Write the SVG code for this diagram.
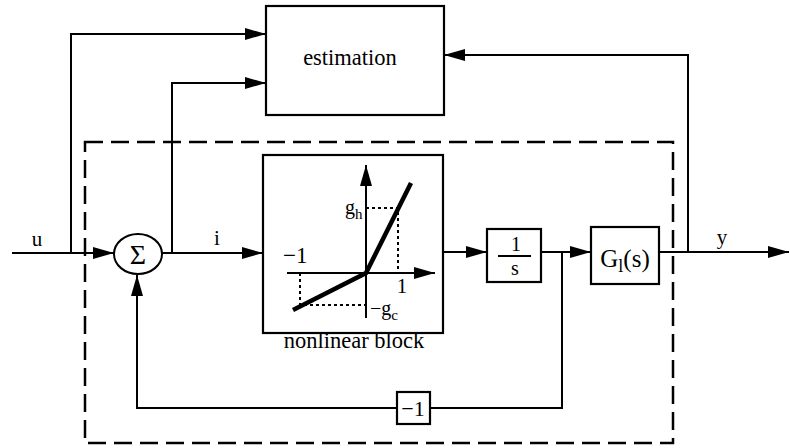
<svg xmlns="http://www.w3.org/2000/svg" width="790" height="448" viewBox="0 0 790 448">
<defs>
<marker id="ah" markerUnits="userSpaceOnUse" markerWidth="22" markerHeight="14" refX="21" refY="6" orient="auto">
<path d="M0,0 L21,6 L0,12 z" fill="#000"/>
</marker>
<style>
.box{fill:#fff;stroke:#000;stroke-width:2.2}
.ln{fill:none;stroke:#000;stroke-width:2}
.arr{fill:none;stroke:#000;stroke-width:2;marker-end:url(#ah)}
.dot{fill:none;stroke:#000;stroke-width:2;stroke-dasharray:3 3}
.t{font-family:"Liberation Serif","Times New Roman",serif;fill:#000}
</style>
</defs>
<rect x="0" y="0" width="790" height="448" fill="#fff"/>
<rect x="85" y="142" width="588" height="301" fill="none" stroke="#000" stroke-width="2.5" stroke-dasharray="18 8"/>
<g id="connectors">
<path class="arr" d="M12,253 H114"/>
<path class="arr" d="M71,253 V34 H266"/>
<path class="arr" d="M162,253 H263"/>
<path class="arr" d="M172,253 V83 H266"/>
<path class="arr" d="M443,252 H487"/>
<path class="arr" d="M541,252 H591"/>
<path class="ln" d="M562,252 V408 H430"/>
<path class="arr" d="M397,408 H137 V275"/>
<path class="arr" d="M659,252 H789"/>
<path class="arr" d="M688,252 V55 H444"/>
<text class="t" x="37" y="246" font-size="21" text-anchor="middle">u</text>
<text class="t" x="217" y="245" font-size="21" text-anchor="middle">i</text>
<text class="t" x="722" y="244" font-size="21" text-anchor="middle">y</text>
</g>
<g id="estimation">
<rect class="box" x="266" y="6" width="178" height="109"/>
<text class="t" x="350" y="65" font-size="22.5" text-anchor="middle">estimation</text>
</g>
<g id="sum">
<ellipse cx="138" cy="254" rx="24" ry="20" fill="#fff" stroke="#000" stroke-width="2"/>
<text class="t" x="138" y="264" font-size="28" text-anchor="middle">Σ</text>
</g>
<g id="nonlinear">
<rect class="box" x="263" y="155" width="180" height="178"/>
<path class="dot" d="M366,208 H398 V273"/>
<path class="dot" d="M300,273 V305 H366"/>
<path class="arr" d="M366,318 V165"/>
<path class="arr" d="M287,273 H435"/>
<path d="M293,310 L366,273 L411,183" fill="none" stroke="#000" stroke-width="4.5"/>
<text class="t" x="345" y="214" font-size="20">g<tspan font-size="15" dy="5">h</tspan></text>
<text class="t" x="283" y="263" font-size="23">−1</text>
<text class="t" x="402" y="293" font-size="21" text-anchor="middle">1</text>
<text class="t" x="370" y="315" font-size="20">−g<tspan font-size="15" dy="5">c</tspan></text>
<text class="t" x="354" y="348" font-size="22.5" text-anchor="middle">nonlinear block</text>
</g>
<g id="integrator">
<rect class="box" x="487" y="229" width="54" height="53"/>
<text class="t" x="516" y="251" font-size="20" text-anchor="middle">1</text>
<path class="ln" d="M498,256 H531"/>
<text class="t" x="515" y="275" font-size="20" text-anchor="middle">s</text>
</g>
<g id="plant">
<rect class="box" x="591" y="227" width="68" height="57"/>
<text class="t" x="625" y="267" font-size="25" text-anchor="middle">G<tspan font-size="18" dy="5">l</tspan><tspan dy="-5">(s)</tspan></text>
</g>
<g id="gain">
<rect class="box" x="397" y="392" width="33" height="32"/>
<text class="t" x="413" y="416" font-size="22" text-anchor="middle">−1</text>
</g>
</svg>
